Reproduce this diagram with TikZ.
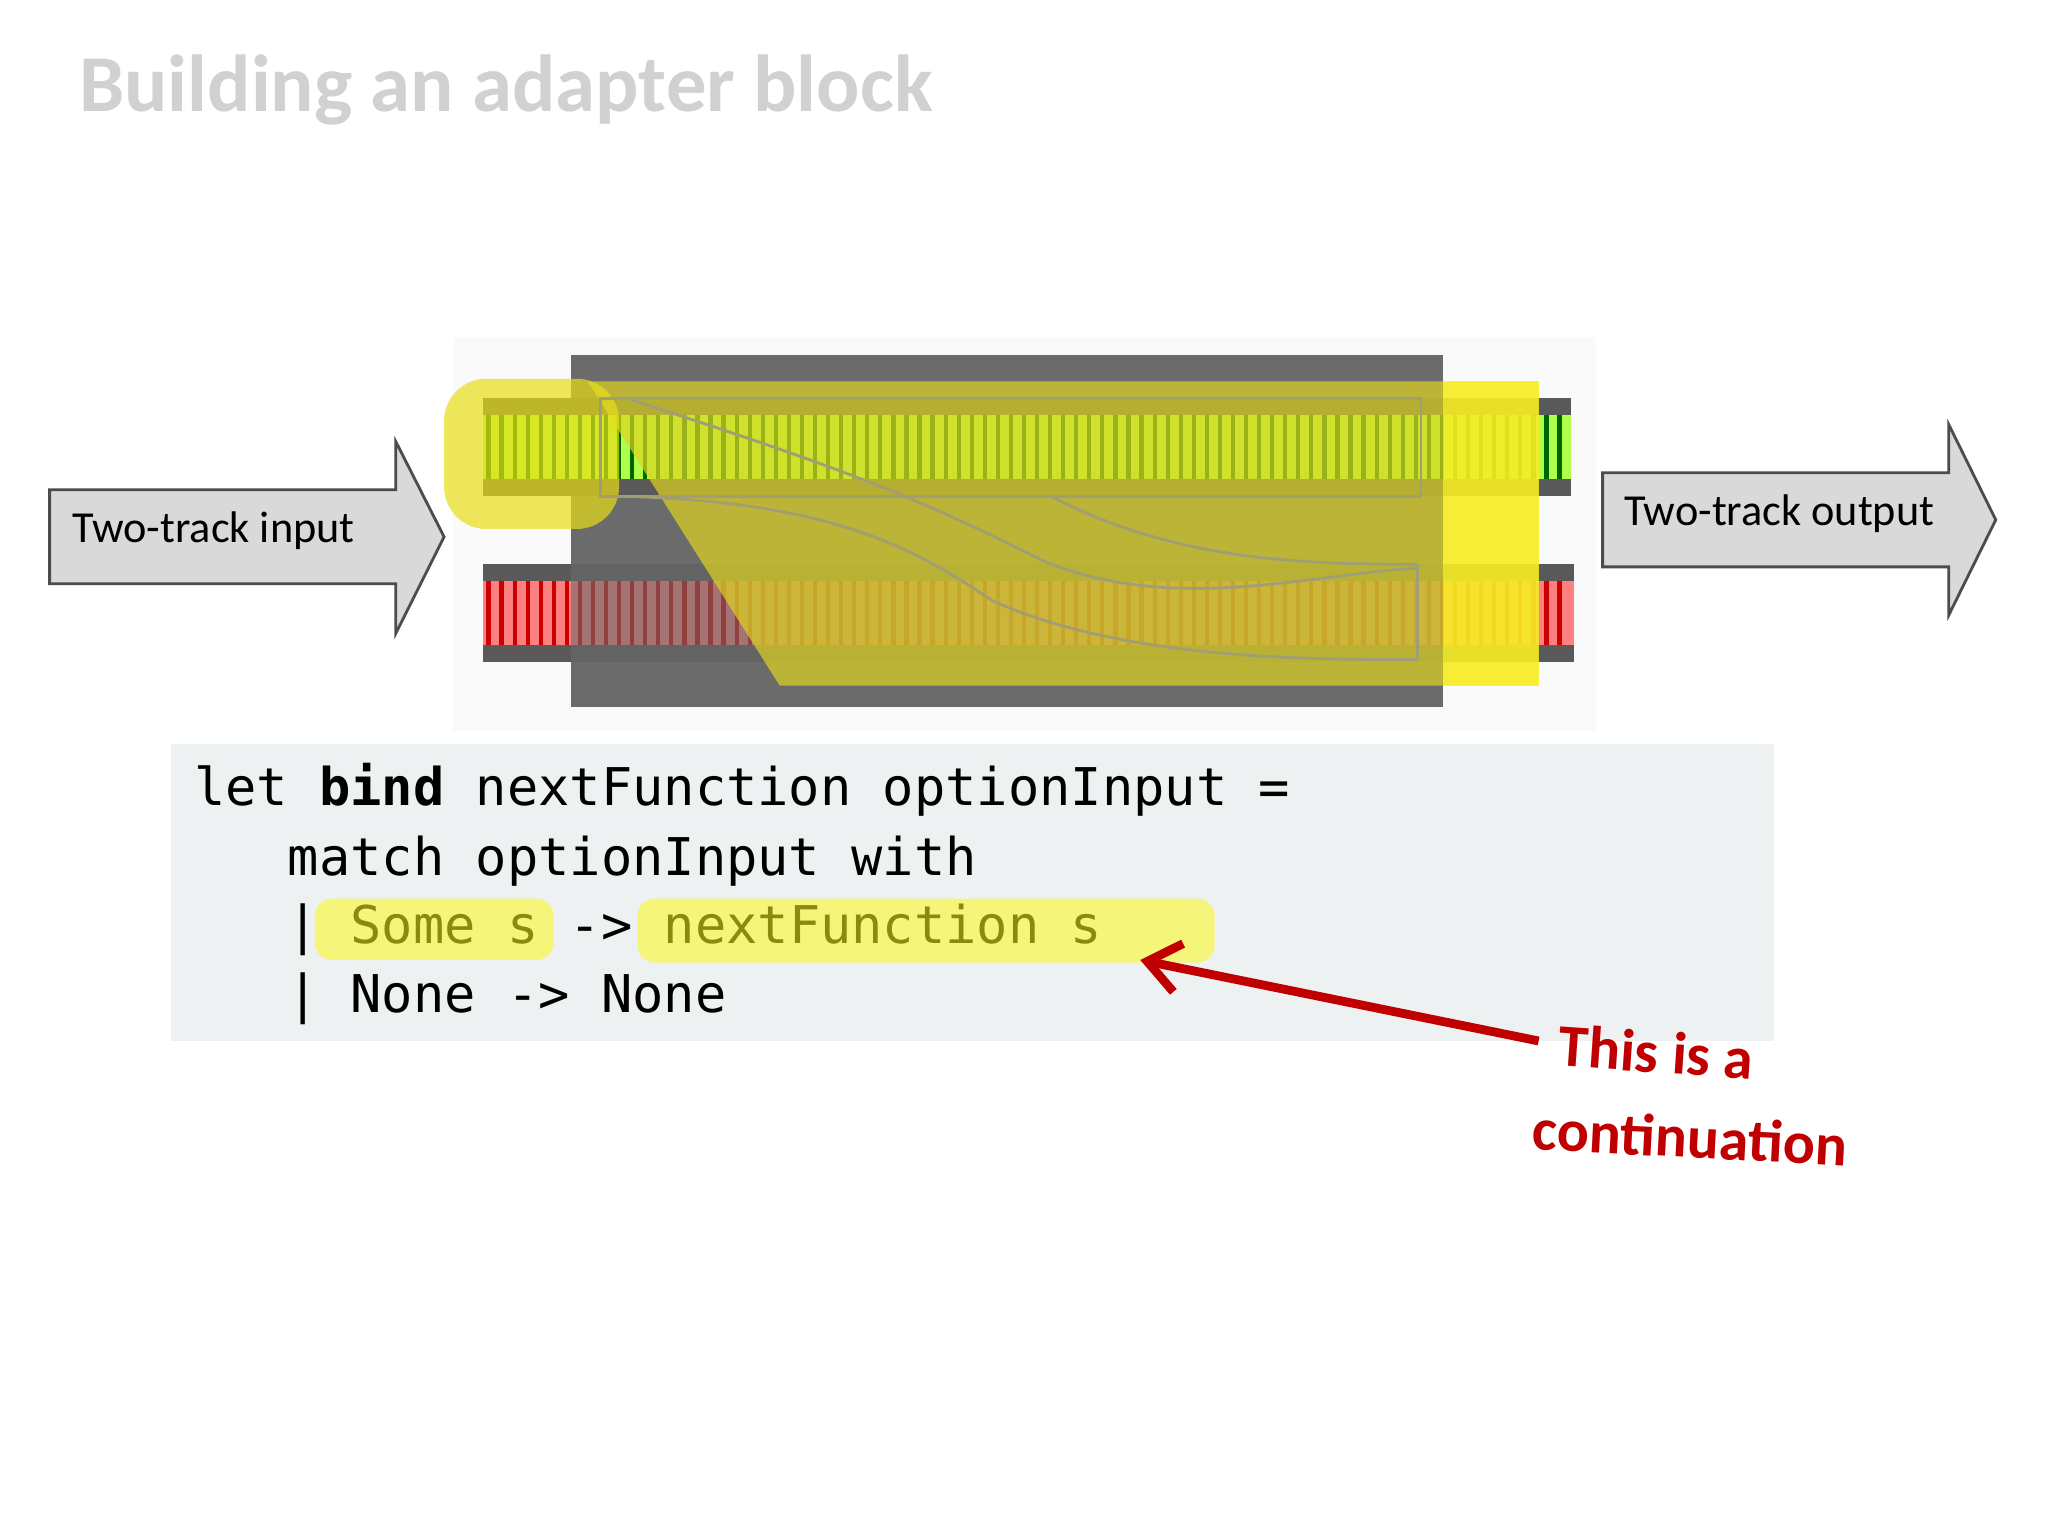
\documentclass[tikz,border=0pt]{standalone}
\usepackage{fontspec}
\newfontfamily\carlito{Carlito}
\newfontfamily\monof{DejaVu Sans Mono}
\usetikzlibrary{arrows.meta}
\definecolor{codebg}{HTML}{EDF1F1}
\definecolor{hl}{HTML}{F5F57A}
\definecolor{hltext}{HTML}{8A8A10}
\definecolor{dred}{HTML}{C00000}
\tikzset{
 bigarrow/.style={fill=gray!30,draw=black!70,line width=0.8pt},
 lbl/.style={font=\carlito\fontsize{12.6pt}{14pt}\selectfont,anchor=west,inner sep=0},
 code/.style={font=\monof\fontsize{14.8pt}{16pt}\selectfont,anchor=base west,inner sep=0},
 hlbox/.style={fill=hl,rounded corners=5pt,draw=none},
}
\begin{document}
\begin{tikzpicture}[x=0.013061cm,y=-0.013061cm]
\useasboundingbox (0,0) rectangle (1568,1176);
\fill[white] (0,0) rectangle (1568,1176);
% title
\node[anchor=base west,inner sep=0,text=black!18,font=\carlito\bfseries\fontsize{23pt}{28pt}\selectfont] (title) at (60,85) {Building an adapter block};
% arrows
\draw[bigarrow] (38,375) -- (303,375) -- (303,338) -- (340,411) -- (303,485) -- (303,447) -- (38,447) -- cycle;
\node[lbl] (inp) at (55,406) {Two-track input};
\draw[bigarrow] (1227,362) -- (1492,362) -- (1492,325) -- (1528,398) -- (1492,471) -- (1492,434) -- (1227,434) -- cycle;
\node[lbl] (outp) at (1243,393) {Two-track output};
% track picture
\fill[black!2] (347,258) rectangle (1222,560);
\fill[black!58] (437,272) rectangle (1105,541);
% top track
\fill[black!65] (370,305) rectangle (1203,380);
\fill[green!45!yellow!70!white] (370,313) rectangle (1203,372);
\foreach \x in {374,384,...,1200} \draw[green!40!black,line width=1.2pt] (\x,313) -- (\x,372);
\fill[black!65] (370,313) rectangle (1203,318);
\fill[black!65] (370,367) rectangle (1203,372);
% bottom track
\fill[black!65] (370,432) rectangle (1205,507);
\fill[red!50!white] (370,440) rectangle (1205,499);
\foreach \x in {374,384,...,1200} \draw[red!80!black,line width=1.2pt] (\x,440) -- (\x,499);
\fill[black!65] (370,440) rectangle (1205,445);
\fill[black!65] (370,494) rectangle (1205,499);
\fill[black!58,opacity=0.6] (437,432) rectangle (1105,507);
% yellow overlays
\fill[yellow!85!black,opacity=0.7] (450,292) -- (1178,292) -- (1178,525) -- (597,525) -- cycle;
\fill[yellow!85!white,opacity=0.7] (1105,292) rectangle (1178,525);
\fill[yellow!90!black,opacity=0.7,rounded corners=12pt] (340,290) rectangle (474,405);
% switch tracks (embossed)
\draw[yellow!40!black!70,line width=0.8pt] (460,305) rectangle (1088,380);
\draw[yellow!40!black!70,line width=0.8pt] (480,305) .. controls (650,360) and (700,380) .. (800,430) .. controls (900,470) and (1000,440) .. (1085,435);
\draw[yellow!40!black!70,line width=0.8pt] (480,380) .. controls (640,385) and (700,420) .. (760,460) .. controls (860,505) and (1000,505) .. (1085,505);
\draw[yellow!40!black!70,line width=0.8pt] (805,380) .. controls (900,430) and (1000,432) .. (1085,432);
\draw[yellow!40!black!70,line width=0.8pt] (1085,432) -- (1085,505);
% code box
\fill[codebg] (131,570) rectangle (1358,797);
\fill[hlbox] (241,688) rectangle (424,735);
\fill[hlbox] (488,688) rectangle (930,737);
\node[code] (l1) at (148,617) {let \textbf{bind} nextFunction optionInput =};
\node[code] (l2) at (148,670) {\ \ \ match optionInput with};
\node[code] (l3) at (148,722) {\ \ \ | \textcolor{hltext}{Some s} -> \textcolor{hltext}{nextFunction s}};
\node[code] (l4) at (148,775) {\ \ \ | None -> None};
% annotation
\coordinate (tip) at (873,735);
\coordinate (tail) at (1178,797);
\draw[dred,line width=2.5pt,-{Straight Barb[length=9pt,width=14pt]}] (tail) -- (tip);
\node[anchor=base west,inner sep=0,text=dred,rotate=-4,font=\carlito\bfseries\fontsize{17pt}{20pt}\selectfont] (ann1) at (1192,816) {This is a};
\node[anchor=base west,inner sep=0,text=dred,rotate=-3,font=\carlito\bfseries\fontsize{17pt}{20pt}\selectfont] (ann2) at (1172,880) {continuation};
\end{tikzpicture}
\end{document}
